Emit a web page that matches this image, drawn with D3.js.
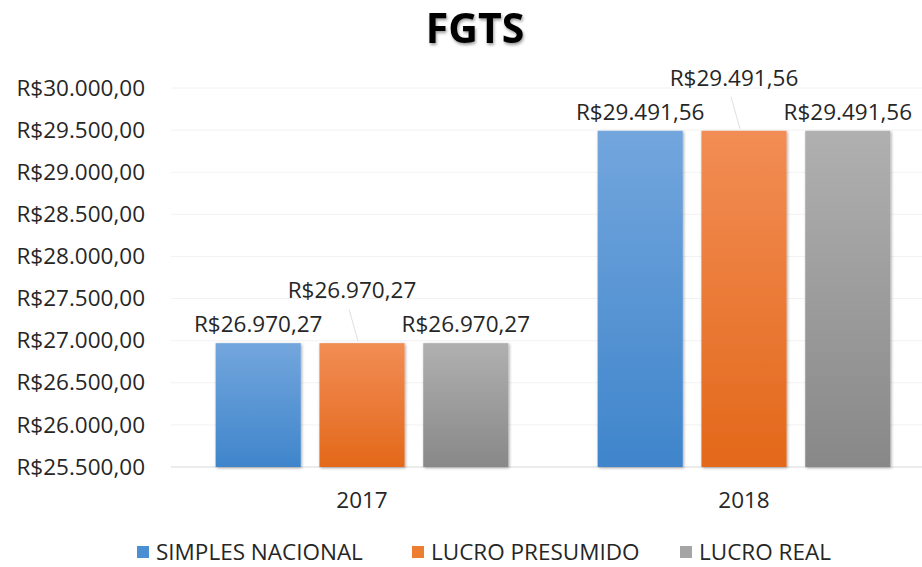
<!DOCTYPE html>
<html>
<head>
<meta charset="utf-8">
<script src="https://cdn.jsdelivr.net/npm/d3@7"></script>
<style>
  body { margin: 0; background: #fff; }
  svg text { font-family: 'Open Sans', sans-serif; fill: #262626; }
</style>
</head>
<body>
<div id="chart"></div>
<script>
// data
const years = ['2017', '2018']
const seriesNames = ['SIMPLES NACIONAL', 'LUCRO PRESUMIDO', 'LUCRO REAL']
const simplesValues = [26970.27, 29491.56]
const presumidoValues = [26970.27, 29491.56]
const realValues = [26970.27, 29491.56]
const yTicks = [25500, 26000, 26500, 27000, 27500, 28000, 28500, 29000, 29500, 30000]

const colors = [
  { top: '#73a6dd', bottom: '#3f85cb', key: '#4a8fd3' },
  { top: '#f28d55', bottom: '#e3681a', key: '#ed7d31' },
  { top: '#b0b0b0', bottom: '#888888', key: '#a5a5a5' }
]

const width = 922, height = 567
const margin = { top: 88, left: 171, bottom: 100, right: -13 }
const fontSize = 22.5

const fmt = v => 'R$' + d3.format(',.2f')(v).replace(/,/g, '#').replace('.', ',').replace(/#/g, '.')

const svg = d3.select('#chart').append('svg')
  .attr('width', width)
  .attr('height', height)

const defs = svg.append('defs')
colors.forEach(function (c, i) {
  const g = defs.append('linearGradient')
    .attr('id', 'grad' + i)
    .attr('x1', 0).attr('y1', 0).attr('x2', 0).attr('y2', 1)
  g.append('stop').attr('offset', '0%').attr('stop-color', c.top)
  g.append('stop').attr('offset', '100%').attr('stop-color', c.bottom)
})
const sh = defs.append('filter').attr('id', 'shadow')
  .attr('x', '-20%').attr('y', '-20%').attr('width', '140%').attr('height', '140%')
sh.append('feDropShadow').attr('dx', 1).attr('dy', 1).attr('stdDeviation', 1.5)
  .attr('flood-color', '#000').attr('flood-opacity', 0.35)
const tsh = defs.append('filter').attr('id', 'tshadow')
  .attr('x', '-20%').attr('y', '-30%').attr('width', '140%').attr('height', '170%')
tsh.append('feDropShadow').attr('dx', 1).attr('dy', 2).attr('stdDeviation', 1.5)
  .attr('flood-color', '#000').attr('flood-opacity', 0.4)

const x0 = d3.scaleBand()
  .domain(years)
  .range([margin.left, width - margin.right])

const x1 = d3.scaleBand()
  .domain(seriesNames)
  .range([0, x0.bandwidth()])
  .paddingInner(0.18)
  .paddingOuter(0.43)

const y = d3.scaleLinear()
  .domain([25500, 30000])
  .range([height - margin.bottom, margin.top])

// title
svg.append('text')
  .attr('x', 475)
  .attr('y', 43)
  .attr('text-anchor', 'middle')
  .attr('font-size', 41)
  .attr('font-weight', 'bold')
  .attr('filter', 'url(#tshadow)')
  .style('fill', '#000')
  .text('FGTS')

// gridlines
svg.append('g')
  .selectAll('line')
  .data(yTicks)
  .join('line')
  .attr('x1', margin.left)
  .attr('x2', width)
  .attr('y1', d => y(d))
  .attr('y2', d => y(d))
  .attr('stroke', d => d === 25500 ? '#d9d9d9' : '#f2f2f2')
  .attr('stroke-width', 1)

// y axis labels
const yAxis = svg.append('g')
  .attr('transform', 'translate(' + (margin.left - 26) + ',0)')
  .call(d3.axisLeft(y).tickValues(yTicks).tickFormat(fmt).tickSize(0))
yAxis.select('.domain').remove()
yAxis.selectAll('text')
  .attr('x', 0)
  .attr('text-anchor', 'end')
  .attr('font-size', fontSize)
  .style('font-family', "'Open Sans', sans-serif")
  .style('fill', '#262626')

// x axis labels
const xAxis = svg.append('g')
  .attr('transform', 'translate(0,' + (height - margin.bottom) + ')')
  .call(d3.axisBottom(x0).tickSize(0))
xAxis.select('.domain').remove()
xAxis.selectAll('text')
  .attr('y', 25)
  .attr('font-size', fontSize)
  .style('font-family', "'Open Sans', sans-serif")
  .style('fill', '#262626')

const seriesValues = [simplesValues, presumidoValues, realValues]
const rows = []
years.forEach(function (yr, i) {
  seriesNames.forEach(function (s, j) {
    rows.push({ year: yr, series: s, idx: j, value: seriesValues[j][i] })
  })
})

// bars
svg.append('g')
  .selectAll('rect')
  .data(rows)
  .join('rect')
  .attr('x', d => x0(d.year) + x1(d.series))
  .attr('y', d => y(d.value))
  .attr('width', x1.bandwidth())
  .attr('height', d => y(25500) - y(d.value))
  .attr('fill', d => 'url(#grad' + d.idx + ')')
  .attr('filter', 'url(#shadow)')

// leader lines for the middle labels
svg.append('g')
  .selectAll('line')
  .data(rows.filter(d => d.idx === 1))
  .join('line')
  .attr('x1', d => x0(d.year) + x1(d.series) + x1.bandwidth() / 2 - 4)
  .attr('x2', d => x0(d.year) + x1(d.series) + x1.bandwidth() / 2 - 13)
  .attr('y1', d => y(d.value) - 2)
  .attr('y2', d => y(d.value) - 34)
  .attr('stroke', '#e0e0e0')
  .attr('stroke-width', 1)

// value labels
svg.append('g')
  .selectAll('text')
  .data(rows)
  .join('text')
  .attr('x', d => x0(d.year) + x1(d.series) + x1.bandwidth() / 2 + (d.idx === 1 ? -10 : 0))
  .attr('y', d => y(d.value) - (d.idx === 1 ? 45 : 11))
  .attr('text-anchor', 'middle')
  .attr('font-size', fontSize)
  .text(d => fmt(d.value))

// legend
const legendX = [137, 412, 680]
const legend = svg.append('g')
  .selectAll('g')
  .data(seriesNames)
  .join('g')
  .attr('transform', (d, i) => 'translate(' + legendX[i] + ',546)')
legend.append('rect')
  .attr('width', 12).attr('height', 12)
  .attr('fill', (d, i) => colors[i].key)
legend.append('text')
  .attr('x', 19)
  .attr('y', 14)
  .attr('font-size', fontSize)
  .text(d => d)
</script>
</body>
</html>
